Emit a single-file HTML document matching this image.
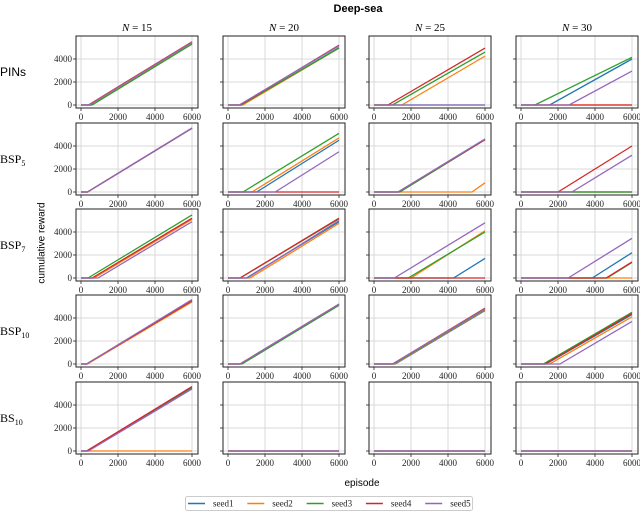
<!DOCTYPE html>
<html><head><meta charset="utf-8">
<style>
body{margin:0;background:#fff;}
svg{display:block;}
.tk{font-family:"Liberation Serif",serif;font-size:9px;fill:#222;}
</style></head>
<body>
<svg id="fig" width="640" height="511" viewBox="0 0 640 511" xmlns="http://www.w3.org/2000/svg">
<text x="358" y="12" text-anchor="middle" font-family="Liberation Sans, sans-serif" font-weight="bold" font-size="11">Deep-sea</text>
<text x="42" y="243" transform="rotate(-90 42 243)" text-anchor="middle" dominant-baseline="middle" font-family="Liberation Sans, sans-serif" font-size="10">cumulative reward</text>
<text x="362" y="486" text-anchor="middle" font-family="Liberation Sans, sans-serif" font-size="10">episode</text>
<g id="panels"></g>
<g>
<rect x="185.5" y="496.5" width="287" height="14" fill="#fff" stroke="#ccc" rx="2"/>
</g>
<g id="legend-items"></g>
</svg>
<script>
const cols = ["15","20","25","30"];
const rowLabels = ["PINs","BSP5","BSP7","BSP10","BS10"];
const seeds = ["seed1","seed2","seed3","seed4","seed5"];
const colors = ["#1f77b4","#ff7f0e","#2ca02c","#d62728","#9467bd"];
const xTicks = [0,2000,4000,6000];
const yTicks = [0,2000,4000];
// start episode (leaves 0) per [row][col][seed]; 6000 = never leaves 0
const starts = [
 [[550,500,600,400,450],[750,800,700,650,600],[6000,1500,1000,750,6000],[1550,6000,750,2600,2600]],
 [[350,350,350,350,350],[1550,1300,810,6000,2550],[1300,5300,1400,1300,1300],[6000,6000,6000,2000,2750]],
 [[650,700,380,600,920],[1000,1200,650,650,1050],[4300,2000,1850,6000,1100],[3850,6000,4650,4600,2550]],
 [[300,350,300,300,300],[650,650,750,650,650],[1150,1100,1050,1000,1000],[1350,1550,1200,1300,2100]],
 [[350,6000,300,300,400],[6000,6000,6000,6000,6000],[6000,6000,6000,6000,6000],[6000,6000,6000,6000,6000]]
];
// cumulative reward at episode 6000 per [row][col][seed]
const ends = [
 [[5350,5400,5300,5500,5450],[5000,4950,4950,5200,5150],[0,4250,4600,4950,0],[4000,0,4150,0,2950]],
 [[5550,5550,5550,5550,5560],[4500,4700,5100,0,3500],[4600,800,4550,4550,4600],[0,0,0,4000,3200]],
 [[5150,5100,5480,5200,4900],[4900,4750,5150,5200,5000],[1700,4100,4000,0,4800],[2200,0,1350,1400,3450]],
 [[5500,5400,5500,5500,5600],[5200,5200,5100,5200,5200],[4650,4700,4750,4850,4800],[4300,4100,4500,4400,3700]],
 [[5500,0,5550,5600,5400],[0,0,0,0,0],[0,0,0,0,0],[0,0,0,0,0]]
];
const NS="http://www.w3.org/2000/svg";
const colX0=[81,228,374,521], rowZero=[105,192,278,364,451];
const xs=111/6000, ys=0.0115;
function mk(tag,attrs,parent){const e=document.createElementNS(NS,tag);for(const k in attrs)e.setAttribute(k,attrs[k]);parent.appendChild(e);return e;}
const root=document.getElementById('panels');
rowLabels.forEach((rl,r)=>{
  const z=rowZero[r];
  const lab=mk('text',{x:0,y:z-29,'font-size':12,'font-family':r===0?'Liberation Sans, sans-serif':'Liberation Serif, serif'},root);
  
  
  if(r===0){lab.textContent=rl;}else{
    const base=rl.match(/^[A-Z]+/)[0], sub=rl.slice(base.length);
    lab.textContent=base;
    const ts=mk('tspan',{'font-size':8,dy:3},lab);ts.textContent=sub;
  }
  cols.forEach((cn,c)=>{
    const x0=colX0[c];
    const X=v=>x0+v*xs, Y=v=>z-v*ys;
    const g=mk('g',{},root);
    
    
    const L=x0-5,R=X(6000)+6,T=z-69,B=z+3;
    xTicks.forEach(t=>{mk('line',{x1:X(t),x2:X(t),y1:T,y2:B,stroke:'#d8d8d8','stroke-width':1},g);
      mk('line',{x1:X(t),x2:X(t),y1:B,y2:B+3,stroke:'#222','stroke-width':0.8},g);
      const tl=mk('text',{x:X(t),y:B+12,'text-anchor':'middle',class:'tk'},g);
      
      
      tl.textContent=t;});
    yTicks.forEach(t=>{mk('line',{x1:L,x2:R,y1:Y(t),y2:Y(t),stroke:'#d8d8d8','stroke-width':1},g);
      mk('line',{x1:L-3,x2:L,y1:Y(t),y2:Y(t),stroke:'#222','stroke-width':0.8},g);
      if(c===0){const tl=mk('text',{x:L-4,y:Y(t)+3,'text-anchor':'end',class:'tk'},g);
        
        
        tl.textContent=t;}});
    seeds.forEach((s,k)=>{
      const st=starts[r][c][k], en=ends[r][c][k];
      const pts=[[0,0],[Math.min(st,6000),0],[6000,en]];
      const p=mk('polyline',{points:pts.map(q=>X(q[0])+','+Y(q[1])).join(' '),fill:'none',stroke:colors[k],'stroke-width':1.3},g);
      
      
    });
    mk('rect',{x:L,y:T,width:R-L,height:B-T,fill:'none',stroke:'#222','stroke-width':1},g);
    if(r===0){const ct=mk('text',{x:(L+R)/2,y:T-5,'text-anchor':'middle','font-family':'Liberation Serif, serif','font-size':11},root);
      
      
      const it=mk('tspan',{'font-style':'italic'},ct);it.textContent='N';
      const rest=mk('tspan',{},ct);rest.textContent=' = '+cn;}
  });
});
const lg=document.getElementById('legend-items');
seeds.forEach((s,k)=>{
  const x=188+k*59.3;
  const g=mk('g',{},lg);
  
  
  mk('line',{x1:x,x2:x+17,y1:503.5,y2:503.5,stroke:colors[k],'stroke-width':1.5},g);
  const t=mk('text',{x:x+25,y:506.5,class:'tk'},g);t.textContent=s;
});
</script>
</body></html>
